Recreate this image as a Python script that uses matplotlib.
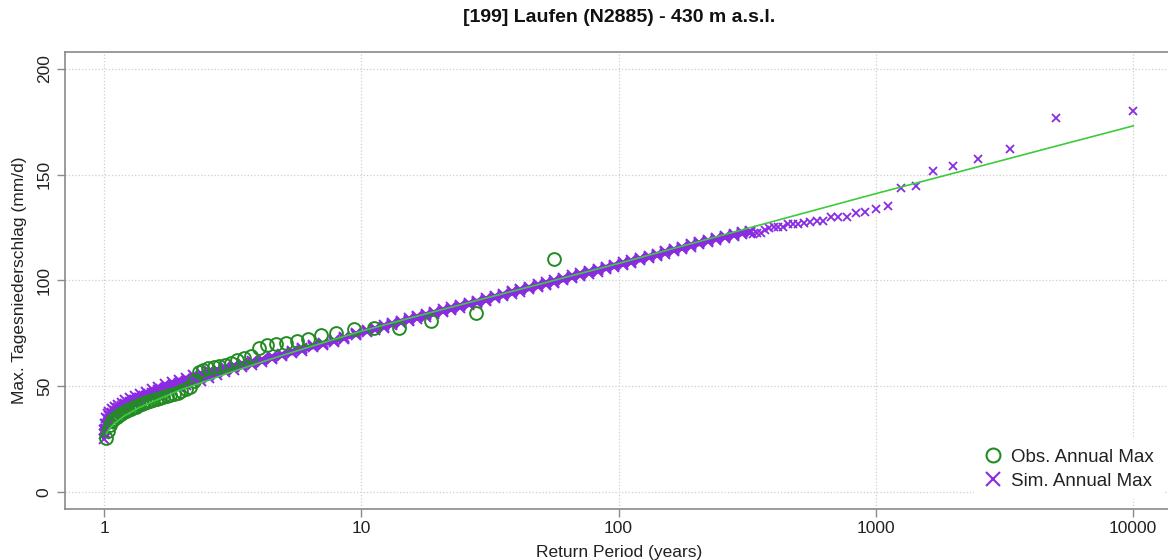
import numpy as np
import matplotlib.pyplot as plt
from matplotlib.lines import Line2D
from matplotlib.ticker import FixedLocator, NullLocator

plt.rcParams['font.family'] = ['Liberation Sans', 'DejaVu Sans']

# observed annual maxima (mm/d), largest first (55 years)
obs_max = [110.3, 84.5, 80.8, 77.6, 77.4, 77.2, 75.0, 74.1, 72.3, 71.3,
           70.6, 69.8, 69.4, 67.9, 64.5, 63.3, 62.3, 61.0, 60.2, 59.4,
           58.9, 58.4, 57.6, 56.9, 52.5, 49.5, 48.5, 47.6, 47.0, 46.5,
           46.0, 45.4, 45.0, 44.5, 44.0, 43.5, 43.0, 42.5, 42.0, 41.4,
           41.0, 40.4, 40.0, 39.4, 38.8, 38.2, 37.6, 37.0, 36.2, 35.5,
           34.6, 33.4, 31.8, 29.0, 25.5]

# simulated annual maxima, largest 30 of 9999 simulated years
sim_top = [180.1, 176.6, 162.0, 157.2, 154.0, 151.7, 144.6, 143.5, 135.2, 133.9,
           132.5, 132.0, 130.1, 129.8, 129.8, 128.1, 128.1, 127.7, 127.3, 126.7,
           126.7, 126.7, 125.4, 125.4, 125.1, 124.6, 124.0, 122.5, 122.3, 122.0]
n_sim_years = 9999

# dense part of the simulated cloud (return period, lower / middle / upper)
band_rp = [1.0, 1.01, 1.02, 1.035, 1.05, 1.07, 1.1, 1.13, 1.17, 1.21,
           1.26, 1.32, 1.38, 1.45, 1.53, 1.62, 1.72, 1.83, 1.95, 2.08,
           2.22, 2.38, 2.55, 2.75, 2.95, 3.2, 3.45, 3.75, 4.1, 4.5,
           4.9, 5.4, 5.9, 6.5, 7.1, 7.8, 8.6, 9.5, 10.5, 11.3,
           12.2, 13.2, 14.2, 15.3, 16.5, 17.8, 19.2, 20.7, 22.4, 24.2,
           26.1, 28.2, 30.5, 33, 35.5, 38.5, 41.5, 45, 48.5, 52,
           56, 61, 66, 71, 77, 83, 89, 96, 104, 112,
           121, 131, 141, 152, 164, 177, 191, 206, 223, 240,
           260, 280, 303, 323]
band_lo = [25.2, 27.7, 29.7, 32.2, 33.7, 35.2, 36.7, 37.7, 38.7, 39.7,
           40.7, 41.7, 42.7, 43.7, 44.9, 46.1, 47.3, 48.4, 49.5, 50.5,
           51.5, 52.7, 53.9, 55.3, 56.7, 57.9, 59.0, 60.2, 61.5, 62.9,
           64.2, 65.5, 66.8, 68.3, 69.5, 71.0, 72.5, 74.0, 75.5, 76.5,
           77.7, 78.8, 79.8, 80.8, 81.9, 82.9, 83.9, 85.0, 86.0, 87.1,
           88.2, 89.2, 90.3, 91.5, 92.5, 93.7, 94.7, 95.8, 96.8, 97.8,
           98.8, 100.0, 101.1, 102.1, 103.2, 104.2, 105.2, 106.2, 107.3, 108.3,
           109.4, 110.5, 111.5, 112.7, 113.8, 114.9, 116.0, 117.0, 118.2, 119.3,
           120.2, 121.2, 121.8, 122.3]
band_mid = [27.2, 30.0, 32.2, 34.5, 35.8, 37.2, 38.5, 39.5, 40.5, 41.5,
            42.5, 43.5, 44.5, 45.5, 46.7, 48.0, 49.1, 50.2, 51.3, 52.3,
            53.3, 54.4, 55.5, 56.7, 57.9, 59.0, 60.0, 61.0, 62.2, 63.5,
            64.8, 66.2, 67.4, 68.8, 70.0, 71.4, 72.9, 74.5, 76.0, 77.0,
            78.2, 79.3, 80.4, 81.4, 82.5, 83.5, 84.5, 85.6, 86.7, 87.8,
            88.8, 89.8, 90.9, 92.1, 93.1, 94.3, 95.3, 96.4, 97.4, 98.4,
            99.4, 100.6, 101.7, 102.7, 103.8, 104.8, 105.8, 106.8, 107.9, 108.9,
            110.0, 111.1, 112.1, 113.2, 114.3, 115.4, 116.5, 117.5, 118.6, 119.5,
            120.6, 121.5, 122.3, 122.8]
band_hi = [29.3, 32.3, 34.8, 36.8, 37.8, 39.3, 40.3, 41.3, 42.3, 43.3,
           44.3, 45.3, 46.3, 47.3, 48.5, 49.8, 50.9, 52.0, 53.1, 54.1,
           55.1, 56.1, 57.1, 58.1, 59.1, 60.1, 61.0, 61.9, 62.9, 64.1,
           65.3, 66.8, 68.0, 69.3, 70.5, 71.8, 73.3, 75.0, 76.5, 77.5,
           78.7, 79.8, 81.0, 82.0, 83.1, 84.2, 85.2, 86.3, 87.4, 88.5,
           89.5, 90.5, 91.6, 92.7, 93.7, 94.9, 95.9, 97.0, 98.1, 99.1,
           100.1, 101.3, 102.4, 103.4, 104.5, 105.5, 106.5, 107.5, 108.5, 109.5,
           110.5, 111.7, 112.7, 113.8, 114.9, 116.0, 117.0, 118.0, 119.0, 119.8,
           121.0, 121.8, 122.8, 123.3]

# fitted distribution
fit_rp = [1.02, 1.05, 1.1, 1.2, 1.35, 1.5, 1.75, 2, 2.5, 3, 4, 5, 7, 10, 15,
          20, 30, 50, 70, 100, 200, 500, 1000, 2000, 5000, 10000]
fit_val = [27.5, 30.0, 32.5, 36.0, 39.5, 42.0, 45.5, 48.5, 52.5, 56.0, 61.0,
           64.8, 70.3, 76.0, 81.8, 85.8, 91.4, 98.4, 103.1, 108.0, 118.0,
           131.1, 141.0, 150.6, 163.4, 173.0]

x_ticks = [1, 10, 100, 1000, 10000]
x_labels = ['1', '10', '100', '1000', '10000']
y_ticks = [0, 50, 100, 150, 200]

obs_col = '#228B22'
sim_col = '#8A2BE2'
fit_col = '#3DCB3D'

# Weibull plotting positions
obs_rp = (len(obs_max) + 1) / np.arange(1, len(obs_max) + 1)
sim_rp = (n_sim_years + 1) / np.arange(1, len(sim_top) + 1)

fig = plt.figure(figsize=(11.68, 5.6), dpi=100)
ax = fig.add_axes([65 / 1168, 1 - 509 / 560, 1 - 65 / 1168, 457 / 560])

# the simulated cloud is so dense that it reads as a solid band
for row in (band_lo, band_mid, band_hi):
    ax.plot(band_rp, row, ls='-', lw=2.6, marker='x', ms=6.5, mew=1.4,
            color=sim_col, solid_capstyle='round')
ax.plot(sim_rp, sim_top, ls='none', marker='x', ms=5.5, mew=1.3, color=sim_col)
ax.plot(obs_rp, obs_max, ls='none', marker='o', ms=9.2, mfc='none', mec=obs_col, mew=1.4)
ax.plot(fit_rp, fit_val, color=fit_col, lw=1.2)

ax.set_xscale('log')
ax.set_xlim(0.7053, 13650)
ax.set_ylim(-8.0, 207.9)
ax.xaxis.set_major_locator(FixedLocator(x_ticks))
ax.xaxis.set_minor_locator(NullLocator())
ax.set_xticklabels(x_labels)
ax.set_yticks(y_ticks)
ax.set_yticklabels([str(v) for v in y_ticks], rotation=90, va='center')

ax.grid(True, ls=':', color='#cfcfcf', lw=0.9)
ax.set_axisbelow(True)
for s in ('left', 'top', 'bottom'):
    ax.spines[s].set_color('#8a8a8a')
    ax.spines[s].set_linewidth(1.2)
ax.spines['right'].set_visible(False)
ax.tick_params(direction='out', length=5.5, width=1, color='#8a8a8a',
               labelcolor='#222222', labelsize=12.5)
ax.tick_params(axis='x', pad=3)
ax.tick_params(axis='y', pad=4)

fig.text(619 / 1168, 1 - 18 / 560, '[199] Laufen (N2885) - 430 m a.s.l.',
         ha='center', va='center', fontsize=14, fontweight='bold', color='#111111')
fig.text(619 / 1168, 1 - 553 / 560, 'Return Period (years)',
         ha='center', va='center', fontsize=12.5, color='#222222')
fig.text(20 / 1168, 1 - 280 / 560, 'Max. Tagesniederschlag (mm/d)', rotation=90,
         ha='center', va='center', fontsize=12.5, color='#222222')

handles = [Line2D([], [], ls='none', marker='o', ms=10, mfc='none', mec=obs_col, mew=1.5),
           Line2D([], [], ls='none', marker='x', ms=10, mew=1.5, color=sim_col)]
leg = ax.legend(handles, ['Obs. Annual Max', 'Sim. Annual Max'], loc='lower right',
                bbox_to_anchor=(0.9955, 0.022), borderaxespad=0, fontsize=13.5,
                frameon=True, fancybox=False, framealpha=1, edgecolor='none',
                handlelength=1.0, handletextpad=0.45, labelspacing=0.37, borderpad=0.5)
for t in leg.get_texts():
    t.set_color('#222222')

fig.savefig('out.png', dpi=100)
